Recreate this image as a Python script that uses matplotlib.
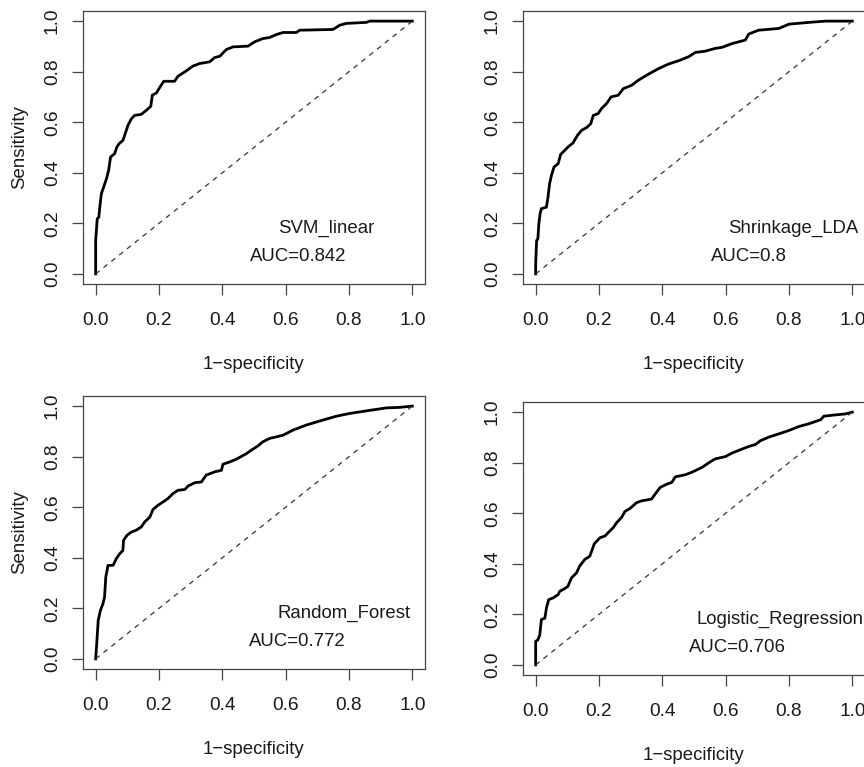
import matplotlib
matplotlib.use("Agg")
import matplotlib.pyplot as plt
import numpy as np

plt.rcParams['font.family'] = ['Liberation Sans', 'DejaVu Sans']

# ROC points (false positive rate, true positive rate)
fpr_svm = [0, 0, 0.005, 0.010, 0.013, 0.018, 0.025, 0.034, 0.041, 0.047, 0.060, 0.067,
           0.074, 0.086, 0.095, 0.102, 0.113, 0.123, 0.144, 0.160, 0.174, 0.179, 0.192,
           0.202, 0.215, 0.249, 0.260, 0.286, 0.307, 0.328, 0.360, 0.376, 0.392, 0.413,
           0.434, 0.481, 0.502, 0.528, 0.549, 0.571, 0.592, 0.634, 0.644, 0.749, 0.771,
           0.792, 0.855, 0.865, 1.0]
tpr_svm = [0, 0.132, 0.218, 0.225, 0.264, 0.317, 0.343, 0.376, 0.410, 0.462, 0.476, 0.502,
           0.515, 0.528, 0.561, 0.588, 0.614, 0.627, 0.631, 0.647, 0.663, 0.707, 0.716,
           0.737, 0.762, 0.762, 0.782, 0.803, 0.822, 0.832, 0.839, 0.856, 0.861, 0.888,
           0.898, 0.901, 0.918, 0.931, 0.935, 0.947, 0.955, 0.955, 0.964, 0.967, 0.984,
           0.991, 0.995, 1.0, 1.0]

fpr_lda = [0, 0, 0.003, 0.007, 0.010, 0.014, 0.018, 0.034, 0.039, 0.044, 0.050, 0.058,
           0.071, 0.079, 0.092, 0.102, 0.118, 0.132, 0.145, 0.161, 0.174, 0.182, 0.197,
           0.208, 0.224, 0.238, 0.261, 0.277, 0.303, 0.324, 0.356, 0.388, 0.419, 0.451,
           0.483, 0.504, 0.535, 0.567, 0.588, 0.620, 0.662, 0.673, 0.704, 0.768, 0.800,
           0.863, 0.916, 1.0]
tpr_lda = [0, 0.040, 0.132, 0.139, 0.198, 0.238, 0.258, 0.264, 0.304, 0.357, 0.390, 0.423,
           0.436, 0.473, 0.489, 0.502, 0.518, 0.548, 0.568, 0.579, 0.594, 0.627, 0.634,
           0.654, 0.674, 0.700, 0.707, 0.733, 0.746, 0.766, 0.790, 0.812, 0.830, 0.843,
           0.859, 0.876, 0.881, 0.892, 0.896, 0.911, 0.925, 0.949, 0.964, 0.971, 0.988,
           0.995, 1.0, 1.0]

fpr_rf = [0, 0.004, 0.008, 0.015, 0.023, 0.028, 0.032, 0.039, 0.055, 0.065, 0.076, 0.086,
          0.088, 0.099, 0.113, 0.128, 0.144, 0.155, 0.171, 0.181, 0.197, 0.213, 0.228,
          0.244, 0.260, 0.281, 0.292, 0.313, 0.334, 0.349, 0.376, 0.397, 0.402, 0.423,
          0.444, 0.476, 0.492, 0.513, 0.528, 0.549, 0.592, 0.623, 0.665, 0.718, 0.760,
          0.802, 0.865, 0.918, 0.960, 1.0]
tpr_rf = [0, 0.073, 0.152, 0.192, 0.218, 0.244, 0.324, 0.370, 0.370, 0.396, 0.416, 0.429,
          0.469, 0.489, 0.502, 0.509, 0.522, 0.542, 0.561, 0.591, 0.608, 0.621, 0.634,
          0.654, 0.667, 0.670, 0.684, 0.697, 0.700, 0.727, 0.740, 0.746, 0.770, 0.779,
          0.790, 0.812, 0.826, 0.843, 0.859, 0.872, 0.885, 0.905, 0.925, 0.945, 0.960,
          0.971, 0.983, 0.993, 0.995, 1.0]

fpr_lr = [0, 0, 0.007, 0.013, 0.018, 0.029, 0.034, 0.041, 0.055, 0.071, 0.076, 0.092,
          0.102, 0.113, 0.129, 0.139, 0.155, 0.171, 0.185, 0.203, 0.219, 0.229, 0.245,
          0.256, 0.271, 0.282, 0.298, 0.319, 0.335, 0.366, 0.377, 0.393, 0.414, 0.430,
          0.441, 0.472, 0.493, 0.525, 0.546, 0.567, 0.599, 0.620, 0.652, 0.673, 0.694,
          0.710, 0.736, 0.768, 0.799, 0.831, 0.863, 0.900, 0.910, 0.947, 0.979, 1.0]
tpr_lr = [0, 0.093, 0.099, 0.119, 0.179, 0.185, 0.225, 0.258, 0.265, 0.278, 0.291, 0.302,
          0.311, 0.344, 0.364, 0.391, 0.417, 0.430, 0.479, 0.503, 0.510, 0.523, 0.543,
          0.563, 0.583, 0.607, 0.619, 0.642, 0.649, 0.656, 0.675, 0.702, 0.715, 0.722,
          0.744, 0.752, 0.762, 0.781, 0.799, 0.815, 0.824, 0.838, 0.854, 0.864, 0.872,
          0.887, 0.901, 0.914, 0.927, 0.943, 0.954, 0.970, 0.984, 0.989, 0.993, 1.0]

model_names = ["SVM_linear", "Shrinkage_LDA", "Random_Forest", "Logistic_Regression"]
auc_labels = ["AUC=0.842", "AUC=0.8", "AUC=0.772", "AUC=0.706"]
ticks = [0.0, 0.2, 0.4, 0.6, 0.8, 1.0]
tick_labels = ["0.0", "0.2", "0.4", "0.6", "0.8", "1.0"]


def roc_panel(ax, fpr, tpr, name, auc, name_x, auc_x, show_ylabel):
    ax.plot(fpr, tpr, color='black', lw=2.0, solid_joinstyle='round')
    ax.plot([0, 1], [0, 1], color='#333333', lw=0.9, linestyle=(0, (4, 4)))
    ax.set_xlim(-0.04, 1.04)
    ax.set_ylim(-0.04, 1.04)
    ax.set_xticks(ticks)
    ax.set_xticklabels(tick_labels)
    ax.set_yticks(ticks)
    ax.set_yticklabels(tick_labels, rotation=90, va='center')
    for s in ax.spines.values():
        s.set_color('#444444')
        s.set_linewidth(0.9)
    ax.tick_params(axis='both', direction='out', length=8, width=0.9, color='#444444',
                   labelsize=13.8, labelcolor='#1a1a1a')
    ax.tick_params(axis='x', pad=12.5)
    ax.tick_params(axis='y', pad=8)
    ax.text(name_x, 0.18, name, ha='center', va='center', fontsize=13.4, color='#1a1a1a')
    ax.text(auc_x, 0.07, auc, ha='center', va='center', fontsize=13.4, color='#1a1a1a')
    ax.text(0.5, -0.265, "1\u2212specificity", transform=ax.transAxes, ha='center',
            va='top', fontsize=13.4, color='#1a1a1a')
    if show_ylabel:
        ax.text(-0.184, 0.5, "Sensitivity", transform=ax.transAxes, rotation=90,
                ha='center', va='center', fontsize=13.4, color='#1a1a1a')


fig = plt.figure(figsize=(8.64, 7.67), dpi=100)
W, H = 864.0, 767.0
# axes boxes in pixels: left, top, right, bottom
boxes = [(83, 11, 425, 284), (523, 11, 865, 284), (83, 396, 425, 669), (523, 402, 865, 675)]
curves = [(fpr_svm, tpr_svm), (fpr_lda, tpr_lda), (fpr_rf, tpr_rf), (fpr_lr, tpr_lr)]
name_xs = [0.728, 0.812, 0.785, 0.772]
auc_xs = [0.638, 0.673, 0.637, 0.637]

for i, (l, t, r, b) in enumerate(boxes):
    ax = fig.add_axes([l / W, 1 - b / H, (r - l) / W, (b - t) / H])
    roc_panel(ax, curves[i][0], curves[i][1], model_names[i], auc_labels[i],
              name_xs[i], auc_xs[i], i % 2 == 0)

fig.savefig("out.png", dpi=100)
